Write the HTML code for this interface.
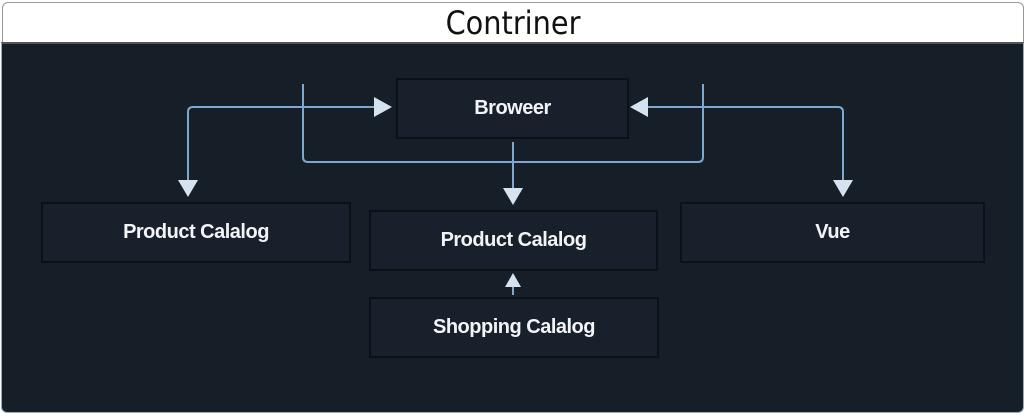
<!DOCTYPE html>
<html><head><style>
html,body{margin:0;padding:0;width:1024px;height:416px;background:#fff;overflow:hidden}
.hdr{position:absolute;left:2px;top:2px;width:1020px;height:40px;background:#fff;border:1px solid #999;border-bottom:none;border-radius:6px 6px 0 0;text-align:center;font:32px/40px "DejaVu Sans Condensed","DejaVu Sans","Liberation Sans",sans-serif;color:#111}
.main{position:absolute;left:1px;top:42px;width:1021px;height:368px;background:#161e27;border:1px solid #9ab;border-top:2px solid #555;border-radius:0 0 6px 6px}
.b{position:absolute;background:#18212b;border:2px solid #0c1117;color:#f2f4f8;font:bold 20px "Liberation Sans Narrow","Liberation Sans",sans-serif;display:flex;align-items:center;justify-content:center;letter-spacing:-0.5px;box-sizing:border-box}
</style></head><body>
<div class="hdr">Contriner</div>
<div class="main"></div>
<div class="b" style="left:396px;top:78px;width:233px;height:61px">Broweer</div>
<div class="b" style="left:41px;top:202px;width:310px;height:61px">Product Calalog</div>
<div class="b" style="left:369px;top:210px;width:289px;height:61px">Product Calalog</div>
<div class="b" style="left:680px;top:202px;width:305px;height:61px">Vue</div>
<div class="b" style="left:369px;top:297px;width:290px;height:61px">Shopping Calalog</div>
<svg width="1024" height="416" style="position:absolute;left:0;top:0">
<g stroke="#7fa8d0" stroke-width="2" fill="none">
<path d="M378 107 H193 Q188 107 188 112 V185"/>
<path d="M636 107 H838 Q843 107 843 112 V185"/>
<path d="M303 84 V157 Q303 162 308 162 H698 Q703 162 703 157 V84"/>
<path d="M513 142 V195"/>
<path d="M513 295 V282"/>
</g>
<g fill="#d5e2f0">
<polygon points="374,97 392,107 374,117"/>
<polygon points="648,97 630,107 648,117"/>
<polygon points="178,180 198,180 188,197"/>
<polygon points="833,180 853,180 843,197"/>
<polygon points="503,188 523,188 513,205"/>
<polygon points="505,287 521,287 513,273"/>
</g>
</svg>
</body></html>
